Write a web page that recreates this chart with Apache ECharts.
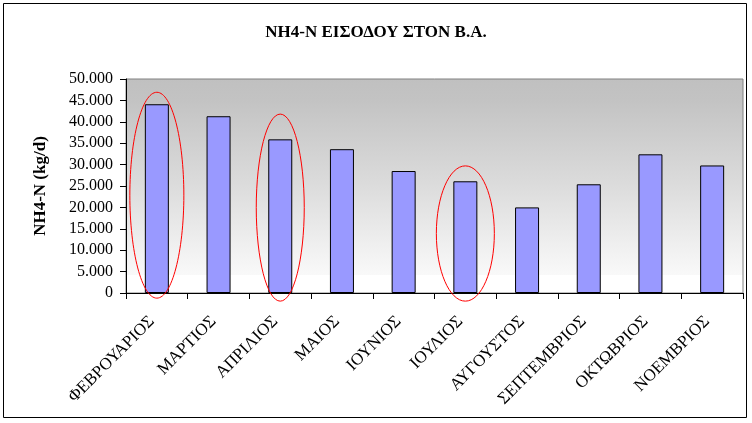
<!DOCTYPE html>
<html>
<head>
<meta charset="utf-8">
<script src="https://cdn.jsdelivr.net/npm/echarts@6/dist/echarts.min.js"></script>
<style>
html,body{margin:0;padding:0;background:#fff;}
#chart{width:752px;height:423px;}
</style>
</head>
<body>
<div id="chart"></div>
<script>
const titleText = 'NH4-N ΕΙΣΟΔΟΥ ΣΤΟΝ Β.Α.';
const yAxisName = 'NH4-N (kg/d)';
const months = ['ΦΕΒΡΟΥΑΡΙΟΣ','ΜΑΡΤΙΟΣ','ΑΠΡΙΛΙΟΣ','ΜΑΙΟΣ','ΙΟΥΝΙΟΣ','ΙΟΥΛΙΟΣ','ΑΥΓΟΥΣΤΟΣ','ΣΕΠΤΕΜΒΡΙΟΣ','ΟΚΤΩΒΡΙΟΣ','ΝΟΕΜΒΡΙΟΣ'];
const nh4Values = [44100, 41300, 35900, 33600, 28500, 26100, 20000, 25400, 32400, 29800];
// highlighted months (index) with ellipse extent in value units
const circledIndex = [0, 2, 5];
const circledTop = [46900, 41800, 29700];
const circledBottom = [-1200, -1900, -1900];
const circledHalfWidth = [27, 24, 29];

const serif = '"Liberation Serif","Times New Roman",serif';
const chart = echarts.init(document.getElementById('chart'), null, {renderer:'canvas'});
chart.setOption({
  animation: false,
  backgroundColor: '#fff',
  title: {
    text: titleText,
    left: 'center',
    top: 19,
    textStyle: {fontFamily: serif, fontSize: 17, fontWeight: 'bold', color: '#000'}
  },
  grid: {
    left: 126, right: 9, top: 79, bottom: 130,
    show: true,
    borderColor: '#808080',
    borderWidth: 1,
    backgroundColor: new echarts.graphic.LinearGradient(0, 0, 0, 1, [
      {offset: 0, color: '#c0c0c0'},
      {offset: 0.1, color: '#c3c3c3'},
      {offset: 0.5, color: '#dcdcdc'},
      {offset: 0.8, color: '#f1f1f1'},
      {offset: 0.915, color: '#f9f9f9'},
      {offset: 0.916, color: '#ffffff'},
      {offset: 1, color: '#ffffff'}
    ])
  },
  xAxis: {
    type: 'category',
    data: months,
    axisLine: {lineStyle: {color: '#000', width: 1}},
    axisTick: {show: true, length: 6, lineStyle: {color: '#000'}},
    axisLabel: {
      interval: 0, rotate: 45, margin: 21,
      padding: [0, 7, 0, 0],
      fontFamily: serif, fontSize: 17, color: '#000'
    },
    splitLine: {show: false}
  },
  yAxis: {
    type: 'value',
    min: 0, max: 50000, interval: 5000,
    name: yAxisName,
    nameLocation: 'middle',
    nameRotate: 90,
    nameGap: 77,
    nameTextStyle: {fontFamily: serif, fontSize: 17, fontWeight: 'bold', color: '#000'},
    axisLine: {show: true, lineStyle: {color: '#000', width: 1}},
    axisTick: {show: true, length: 6, lineStyle: {color: '#000'}},
    axisLabel: {
      margin: 13,
      fontFamily: serif, fontSize: 16, color: '#000',
      formatter: function (v) {
        return String(v).replace(/\B(?=(\d{3})+(?!\d))/g, '.');
      }
    },
    splitLine: {show: false}
  },
  series: [{
    type: 'bar',
    data: nh4Values,
    barWidth: 24,
    itemStyle: {color: '#9999ff', borderColor: '#000', borderWidth: 1}
  }]
});

// annotations: red ellipses + outer frame
const graphics = [{
  type: 'rect',
  shape: {x: 3.5, y: 3.5, width: 743, height: 414},
  style: {fill: null, stroke: '#000', lineWidth: 1},
  z: 100
}];
circledIndex.forEach(function (idx, i) {
  const pTop = chart.convertToPixel({gridIndex: 0}, [idx, circledTop[i]]);
  const pBot = chart.convertToPixel({gridIndex: 0}, [idx, circledBottom[i]]);
  graphics.push({
    type: 'ellipse',
    shape: {cx: pTop[0], cy: (pTop[1] + pBot[1]) / 2, rx: circledHalfWidth[i], ry: (pBot[1] - pTop[1]) / 2},
    style: {fill: null, stroke: '#ff0000', lineWidth: 1},
    z: 100
  });
});
chart.setOption({graphic: graphics});
</script>
</body>
</html>
